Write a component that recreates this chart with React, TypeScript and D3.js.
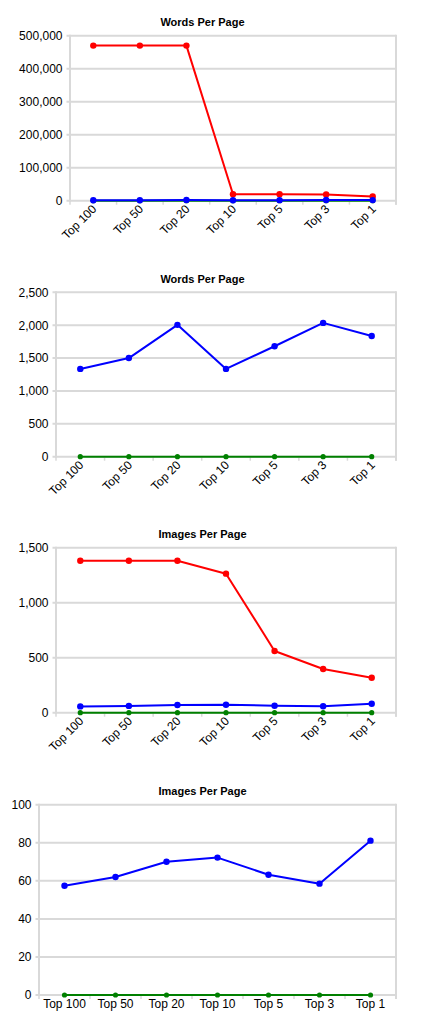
import React from "react";
import * as d3 from "d3";

const categories = ["Top 100", "Top 50", "Top 20", "Top 10", "Top 5", "Top 3", "Top 1"];

const wordsRed = [470000, 470000, 470000, 19500, 19500, 19000, 13000];
const wordsBlue = [1335, 1500, 2005, 1335, 1680, 2035, 1835];
const wordsGreen = [0, 0, 0, 0, 0, 0, 0];

const imagesRed = [1382, 1382, 1382, 1264, 561, 397, 318];
const imagesBlue = [57.4, 62, 70, 72.2, 63.2, 58.5, 81.1];
const imagesGreen = [0, 0, 0, 0, 0, 0, 0];

const wordsTicksBig = [0, 100000, 200000, 300000, 400000, 500000];
const wordsTicksSmall = [0, 500, 1000, 1500, 2000, 2500];
const imagesTicksBig = [0, 500, 1000, 1500];
const imagesTicksSmall = [0, 20, 40, 60, 80, 100];

const FONT = "'Liberation Sans', Arial, Helvetica, sans-serif";
const GRID = "#d9d9d9";
const RED = "#ff0000";
const BLUE = "#0000ff";
const GREEN = "#008000";

type Series = { values: number[]; color: string; r: number };

type ChartProps = {
  title: string;
  left: number;
  right: number;
  top: number;
  bottom: number;
  ticks: number[];
  series: Series[];
  rotate: boolean;
};

function LineChart({ title, left, right, top, bottom, ticks, series, rotate }: ChartProps) {
  const x = d3.scaleBand<string>().domain(categories).range([left, right]).padding(0);
  const max = ticks[ticks.length - 1];
  const y = d3.scaleLinear().domain([0, max]).range([bottom, top]);
  const fmt = d3.format(",");
  const cx = (i: number) => (x(categories[i]) as number) + x.bandwidth() / 2;
  const line = d3
    .line<number>()
    .x((_, i) => cx(i))
    .y((d) => y(d));
  const boundaries = categories.map((c) => x(c) as number).concat([right]);

  return (
    <g>
      <text
        x={202.5}
        y={top - 9.6}
        textAnchor="middle"
        fontFamily={FONT}
        fontWeight="bold"
        fontSize={11}
        fill="#000"
      >
        {title}
      </text>
      {ticks.map((t) => (
        <g key={t}>
          <line x1={left - 3.5} x2={right} y1={y(t)} y2={y(t)} stroke={GRID} strokeWidth={2} />
          <text
            x={left - 7.5}
            y={y(t)}
            dy="0.36em"
            textAnchor="end"
            fontFamily={FONT}
            fontSize={12}
            fill="#000"
          >
            {fmt(t)}
          </text>
        </g>
      ))}
      <line x1={left} x2={left} y1={top - 1} y2={bottom + 1} stroke={GRID} strokeWidth={2} />
      <line x1={right} x2={right} y1={top - 1} y2={bottom + 4} stroke={GRID} strokeWidth={2} />
      {boundaries.map((b, i) => (
        <line key={i} x1={b} x2={b} y1={bottom} y2={bottom + 4} stroke={GRID} strokeWidth={1.5} />
      ))}
      {categories.map((c, i) =>
        rotate ? (
          <text
            key={c}
            transform={`translate(${cx(i) + 4},${bottom + 9}) rotate(-45)`}
            textAnchor="end"
            fontFamily={FONT}
            fontSize={12}
            fill="#000"
          >
            {c}
          </text>
        ) : (
          <text
            key={c}
            x={cx(i)}
            y={bottom + 13}
            textAnchor="middle"
            fontFamily={FONT}
            fontSize={12}
            fill="#000"
          >
            {c}
          </text>
        )
      )}
      {series.map((s, si) => (
        <g key={si}>
          <path d={line(s.values) as string} fill="none" stroke={s.color} strokeWidth={2} strokeLinejoin="round" />
          {s.values.map((v, i) => (
            <circle key={i} cx={cx(i)} cy={y(v)} r={s.r} fill={s.color} />
          ))}
        </g>
      ))}
    </g>
  );
}

export default function App() {
  return (
    <div style={{ position: "absolute", left: 0, top: 0, width: 424, height: 1027, background: "#fff" }}>
      <svg width={424} height={1027} style={{ display: "block" }}>
        <rect width={424} height={1027} fill="#fff" />
        <LineChart
          title="Words Per Page"
          left={70}
          right={396}
          top={35.7}
          bottom={200.7}
          ticks={wordsTicksBig}
          rotate={true}
          series={[
            { values: wordsRed, color: RED, r: 3.2 },
            { values: wordsGreen, color: GREEN, r: 2.6 },
            { values: wordsBlue, color: BLUE, r: 3.2 },
          ]}
        />
        <LineChart
          title="Words Per Page"
          left={56}
          right={396}
          top={292.3}
          bottom={456.7}
          ticks={wordsTicksSmall}
          rotate={true}
          series={[
            { values: wordsGreen, color: GREEN, r: 2.6 },
            { values: wordsBlue, color: BLUE, r: 3.2 },
          ]}
        />
        <LineChart
          title="Images Per Page"
          left={56}
          right={396}
          top={547.7}
          bottom={712.7}
          ticks={imagesTicksBig}
          rotate={true}
          series={[
            { values: imagesRed, color: RED, r: 3.2 },
            { values: imagesGreen, color: GREEN, r: 2.6 },
            { values: imagesBlue, color: BLUE, r: 3.2 },
          ]}
        />
        <LineChart
          title="Images Per Page"
          left={39}
          right={396}
          top={804.7}
          bottom={995}
          ticks={imagesTicksSmall}
          rotate={false}
          series={[
            { values: imagesGreen, color: GREEN, r: 2.6 },
            { values: imagesBlue, color: BLUE, r: 3.2 },
          ]}
        />
      </svg>
    </div>
  );
}
